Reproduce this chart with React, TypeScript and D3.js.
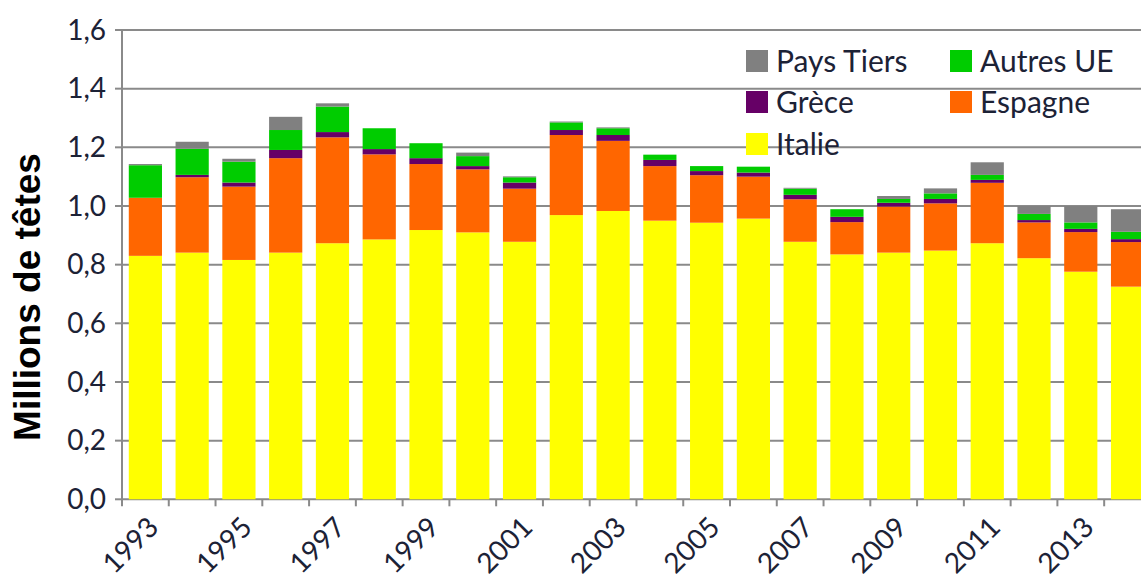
import React from "react";
import * as d3 from "d3";

const years = [
  "1993","1994","1995","1996","1997","1998","1999","2000","2001","2002","2003",
  "2004","2005","2006","2007","2008","2009","2010","2011","2012","2013","2014",
];
const italie = [0.830,0.841,0.816,0.841,0.873,0.886,0.918,0.910,0.878,0.969,0.983,0.950,0.943,0.957,0.878,0.835,0.841,0.848,0.873,0.822,0.776,0.725];
const espagne = [0.198,0.257,0.250,0.322,0.361,0.290,0.225,0.215,0.181,0.273,0.239,0.186,0.162,0.143,0.145,0.110,0.157,0.161,0.206,0.122,0.135,0.152];
const grece = [0.000,0.008,0.014,0.028,0.018,0.018,0.020,0.011,0.021,0.017,0.020,0.021,0.014,0.014,0.015,0.018,0.013,0.015,0.010,0.008,0.011,0.010];
const autresUE = [0.111,0.089,0.071,0.068,0.087,0.071,0.051,0.034,0.018,0.026,0.023,0.018,0.017,0.020,0.021,0.026,0.013,0.019,0.017,0.021,0.022,0.025];
const paysTiers = [0.004,0.024,0.010,0.045,0.011,0.000,0.000,0.012,0.003,0.003,0.003,0.000,0.000,0.000,0.003,0.000,0.010,0.017,0.043,0.027,0.056,0.077];
const yTicks = [0, 0.2, 0.4, 0.6, 0.8, 1.0, 1.2, 1.4, 1.6];

const seriesNames = ["Italie", "Espagne", "Grèce", "Autres UE", "Pays Tiers"];
const seriesValues = [italie, espagne, grece, autresUE, paysTiers];
const seriesColors = ["#ffff00", "#ff6600", "#660066", "#00cc00", "#808080"];

const W = 1141;
const H = 580;
const left = 122;
const step = 46.77;
const y0 = 499.3;
const yTop = 30;
const FONT = "Lato, 'Open Sans', sans-serif";
const TEXT = "#1c2236";
const GRID = "#8a8a8a";

export default function App() {
  const x = d3
    .scaleBand<string>()
    .domain(years)
    .range([left, left + step * years.length])
    .paddingInner(0.29)
    .paddingOuter(0.145);
  const y = d3.scaleLinear().domain([0, 1.6]).range([y0, yTop]);

  const rows = years.map((yr, i) => {
    const r: any = { year: yr };
    seriesNames.forEach((n, k) => (r[n] = seriesValues[k][i]));
    return r;
  });
  const stack = d3.stack<any>().keys(seriesNames)(rows);
  const fmt = (v: number) => v.toFixed(1).replace(".", ",");

  const legendItems = [
    { name: "Pays Tiers", color: seriesColors[4], lx: 746, ly: 61 },
    { name: "Autres UE", color: seriesColors[3], lx: 950, ly: 61 },
    { name: "Grèce", color: seriesColors[2], lx: 746, ly: 102 },
    { name: "Espagne", color: seriesColors[1], lx: 950, ly: 102 },
    { name: "Italie", color: seriesColors[0], lx: 746, ly: 144 },
  ];

  return (
    <svg
      width={W}
      height={H}
      style={{ position: "absolute", left: 0, top: 0, background: "#fff" }}
      fontFamily={FONT}
    >
      {yTicks.map((t) => (
        <line key={"g" + t} x1={left} x2={W} y1={y(t)} y2={y(t)} stroke={GRID} strokeWidth={2} />
      ))}
      {stack.map((s, k) => (
        <g key={s.key} fill={seriesColors[k]}>
          {s.map((d, i) => (
            <rect
              key={i}
              x={x(years[i])!}
              width={x.bandwidth()}
              y={y(d[1])}
              height={Math.max(0, y(d[0]) - y(d[1]))}
            />
          ))}
        </g>
      ))}
      <line x1={left} x2={left} y1={yTop} y2={y0} stroke={GRID} strokeWidth={2} />
      {yTicks.map((t) => (
        <g key={"t" + t}>
          <line x1={left - 7} x2={left} y1={y(t)} y2={y(t)} stroke={GRID} strokeWidth={2} />
          <text x={left - 16} y={y(t)} dy="0.35em" textAnchor="end" fontSize={28} fill={TEXT}>
            {fmt(t)}
          </text>
        </g>
      ))}
      {years.map((yr, i) => (
        <line
          key={"xt" + yr}
          x1={left + i * step}
          x2={left + i * step}
          y1={y0}
          y2={y0 + 7}
          stroke={GRID}
          strokeWidth={2}
        />
      ))}
      {years.map((yr, i) =>
        i % 2 === 0 ? (
          <text
            key={"xl" + yr}
            transform={`translate(${x(yr)! + x.bandwidth() / 2 + 7},${y0 + 22}) rotate(-45)`}
            textAnchor="end"
            dominantBaseline="central"
            fontSize={28}
            fill={TEXT}
          >
            {yr}
          </text>
        ) : null
      )}
      <text
        transform={`translate(27,${(152 + 442) / 2}) rotate(-90)`}
        textAnchor="middle"
        dominantBaseline="central"
        fontFamily="'Liberation Sans', Arial, sans-serif"
        fontWeight="bold"
        fontSize={37}
        fill="#000"
      >
        Millions de têtes
      </text>
      {legendItems.map((it) => (
        <g key={it.name}>
          <rect x={it.lx} y={it.ly - 11} width={22} height={22} fill={it.color} />
          <text x={it.lx + 30} y={it.ly} dy="0.35em" fontSize={30} fill={TEXT}>
            {it.name}
          </text>
        </g>
      ))}
    </svg>
  );
}
